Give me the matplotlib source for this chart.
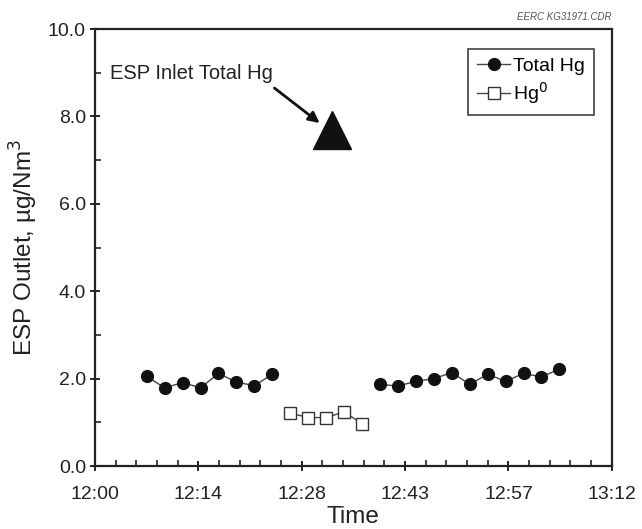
import matplotlib.pyplot as plt
from matplotlib.ticker import MultipleLocator, FuncFormatter

plt.rcParams['font.family'] = ['Liberation Sans', 'DejaVu Sans']

# minutes after 12:00
t_total1 = [7.2, 9.7, 12.2, 14.7, 17.2, 19.7, 22.2, 24.7]
hg_total1 = [2.05, 1.79, 1.91, 1.79, 2.12, 1.92, 1.84, 2.10]
t_hg0 = [27.2, 29.7, 32.2, 34.7, 37.2]
hg0 = [1.21, 1.11, 1.11, 1.24, 0.97]
t_total2 = [39.7, 42.2, 44.7, 47.2, 49.7, 52.2, 54.7, 57.2, 59.7, 62.2, 64.7]
hg_total2 = [1.87, 1.83, 1.94, 2.00, 2.14, 1.87, 2.10, 1.94, 2.12, 2.04, 2.22]
t_inlet = [33.0]
hg_inlet = [7.68]


def hhmm(x, pos):
    m = int(x + 1e-6)
    return "%d:%02d" % (12 + m // 60, m % 60)


fig = plt.figure(figsize=(6.42, 5.29), dpi=100)
ax = fig.add_axes([0.148, 0.119, 0.805, 0.826])

line_kw = dict(color='#444444', lw=1.0)
ax.plot(t_total1, hg_total1, marker='o', ms=8.5, mfc='#111111', mec='#111111',
        label='Total Hg', **line_kw)
ax.plot(t_total2, hg_total2, marker='o', ms=8.5, mfc='#111111', mec='#111111', **line_kw)
ax.plot(t_hg0, hg0, marker='s', ms=8.5, mfc='white', mec='#333333', mew=1.0,
        label='Hg$^0$', **line_kw)
ax.plot(t_inlet, hg_inlet, marker='^', ms=28, color='#111111', ls='none')

ax.annotate('', xy=(31.3, 7.85), xytext=(25.0, 8.65),
            arrowprops=dict(arrowstyle='-|>', color='#111111', lw=2.0,
                            shrinkA=0, shrinkB=0, mutation_scale=16))
ax.text(2.1, 8.99, 'ESP Inlet Total Hg', fontsize=14.5, va='center', ha='left',
        color='#222222')

ax.set_xlim(0, 72)
ax.set_ylim(0, 10)
ax.xaxis.set_major_locator(MultipleLocator(14.4))
ax.xaxis.set_minor_locator(MultipleLocator(2.88))
ax.xaxis.set_major_formatter(FuncFormatter(hhmm))
ax.yaxis.set_major_locator(MultipleLocator(2))
ax.yaxis.set_minor_locator(MultipleLocator(1))
ax.yaxis.set_major_formatter(FuncFormatter(lambda v, p: "%.1f" % v))
ax.tick_params(which='major', direction='inout', length=7, width=1.4, labelsize=14,
               colors='#222222', pad=3)
ax.tick_params(axis='x', which='major', pad=11)
ax.tick_params(which='minor', direction='in', length=4, width=1.2, colors='#222222')
for s in ax.spines.values():
    s.set_linewidth(1.6)
    s.set_color('#222222')

ax.set_xlabel('Time', fontsize=17.5, labelpad=2, color='#222222')
ax.set_ylabel('ESP Outlet, µg/Nm$^3$', fontsize=17.5, labelpad=6, color='#222222')

leg = ax.legend(loc='upper right', bbox_to_anchor=(0.965, 0.955), fontsize=14,
                frameon=True, fancybox=False, handlelength=1.7, handletextpad=0.15,
                borderpad=0.45, labelspacing=0.25, borderaxespad=0)
leg.get_frame().set_edgecolor('#222222')
leg.get_frame().set_linewidth(1.3)

fig.text(0.953, 0.958, 'EERC KG31971.CDR', fontsize=7, style='italic',
         color='#555555', ha='right', va='bottom')

fig.savefig('out.png', dpi=100)
